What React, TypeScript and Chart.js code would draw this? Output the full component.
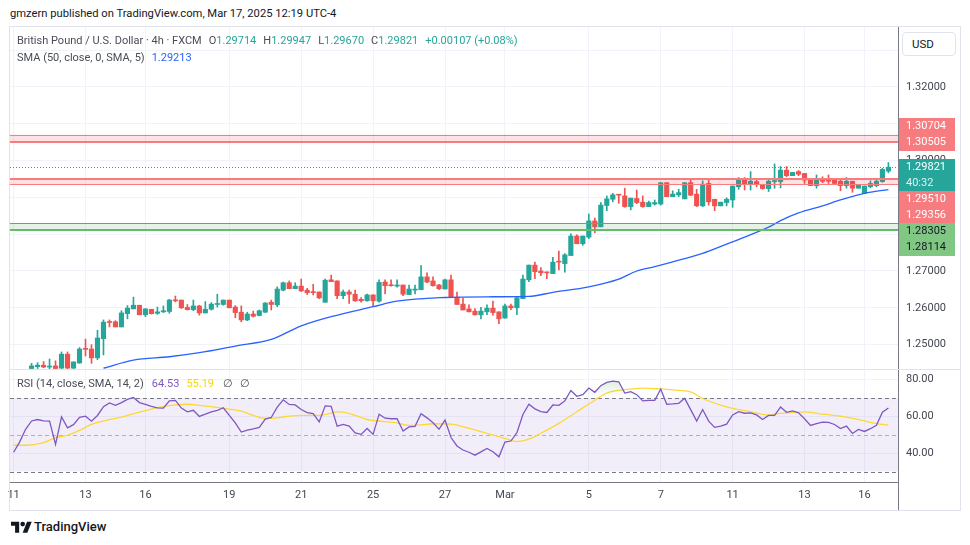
import React, { useEffect, useRef } from 'react';
import { Chart, registerables } from 'chart.js';

Chart.register(...registerables);
Chart.defaults.font.family = 'Roboto, "Noto Sans", sans-serif';
Chart.defaults.font.size = 11;

// ---------- texts ----------
const TITLE = 'gmzern published on TradingView.com, Mar 17, 2025 12:19 UTC-4';
const SYMBOL = 'British Pound / U.S. Dollar · 4h · FXCM';
const OHLC_LABELS = ['O', 'H', 'L', 'C'];
const OHLC_VALUES = ['1.29714', '1.29947', '1.29670', '1.29821'];
const CHANGE = '+0.00107 (+0.08%)';
const SMA_TITLE = 'SMA (50, close, 0, SMA, 5)';
const SMA_LAST = '1.29213';
const RSI_TITLE = 'RSI (14, close, SMA, 14, 2)';
const RSI_LAST = '64.53';
const RSI_MA_LAST = '55.19';
const CURRENCY = 'USD';
const TIMER = '40:32';

// ---------- axes ----------
const DAY_TICKS = [0, 12, 22, 36, 48, 60, 72, 82, 96, 108, 120, 132, 142];
const DAY_LABELS = ['11', '13', '16', '19', '21', '25', '27', 'Mar', '5', '7', '11', '13', '16'];
const PRICE_TICKS = [1.25, 1.26, 1.27, 1.28, 1.29, 1.3, 1.31, 1.32, 1.33];
const RSI_TICKS = [40, 60, 80];

// ---------- 4h candles (index 0 = first bar of Feb 11) ----------
const OPEN = [null, null, null,
  1.2435, 1.2440, 1.2444, 1.2439, 1.2442, 1.2436, 1.2474, 1.2436, 1.2450, 1.2489,
  1.2488, 1.2464, 1.2516, 1.2562, 1.2562, 1.2548, 1.2584, 1.2597, 1.2607, 1.2581,
  1.2596, 1.2585, 1.2589, 1.2590, 1.2621, 1.2621, 1.2601, 1.2595, 1.2605, 1.2586,
  1.2596, 1.2609, 1.2609, 1.2621, 1.2602, 1.2588, 1.2567, 1.2583, 1.2579, 1.2588,
  1.2615, 1.2608, 1.2648, 1.2668, 1.2652, 1.2659, 1.2648, 1.2644, 1.2643, 1.2615,
  1.2676, 1.2673, 1.2633, 1.2643, 1.2637, 1.2623, 1.2619, 1.2635, 1.2618, 1.2670,
  1.2662, 1.2659, 1.2662, 1.2636, 1.2648, 1.2649, 1.2684, 1.2673, 1.2662, 1.2651,
  1.2676, 1.2629, 1.2610, 1.2597, 1.2591, 1.2581, 1.2589, 1.2599, 1.2589, 1.2572,
  1.2605, 1.2600, 1.2625, 1.2676, 1.2716, 1.2700, 1.2697, 1.2693, 1.2725, 1.2720,
  1.2742, 1.2795, 1.2774, 1.2792, 1.2836, 1.2820, 1.2878, 1.2895, 1.2908, 1.2904,
  1.2875, 1.2897, 1.2887, 1.2875, 1.2882, 1.2882, 1.2940, 1.2902, 1.2907, 1.2896,
  1.2940, 1.2909, 1.2877, 1.2938, 1.2895, 1.2877, 1.2886, 1.2893, 1.2929, 1.2947,
  1.2936, 1.2943, 1.2935, 1.2924, 1.2943, 1.2943, 1.2974, 1.2959, 1.2970, 1.2965,
  1.2950, 1.2932, 1.2947, 1.2947, 1.2947, 1.2944, 1.2932, 1.2944, 1.2925, 1.2911,
  1.2929, 1.2932, 1.2943, 1.29714];
const HIGH = [null, null, null,
  1.2449, 1.2451, 1.2454, 1.2461, 1.2456, 1.2480, 1.2480, 1.2453, 1.2492, 1.2515,
  1.2500, 1.2539, 1.2567, 1.2567, 1.2565, 1.2592, 1.2606, 1.2629, 1.2607, 1.2598,
  1.2596, 1.2602, 1.2605, 1.2623, 1.2632, 1.2621, 1.2609, 1.2621, 1.2607, 1.2617,
  1.2614, 1.2637, 1.2621, 1.2621, 1.2606, 1.2605, 1.2588, 1.2591, 1.2594, 1.2614,
  1.2621, 1.2657, 1.2670, 1.2673, 1.2668, 1.2678, 1.2653, 1.2664, 1.2643, 1.2678,
  1.2689, 1.2673, 1.2648, 1.2648, 1.2648, 1.2628, 1.2637, 1.2635, 1.2676, 1.2676,
  1.2676, 1.2676, 1.2662, 1.2662, 1.2662, 1.2715, 1.2695, 1.2684, 1.2664, 1.2678,
  1.2689, 1.2643, 1.2626, 1.2608, 1.2598, 1.2601, 1.2608, 1.2618, 1.2589, 1.2610,
  1.2610, 1.2629, 1.2689, 1.2716, 1.2724, 1.2709, 1.2697, 1.2737, 1.2754, 1.2747,
  1.2801, 1.2798, 1.2795, 1.2855, 1.2844, 1.2886, 1.2904, 1.2911, 1.2908, 1.2925,
  1.2898, 1.2920, 1.2904, 1.2890, 1.2893, 1.2940, 1.2940, 1.2918, 1.2922, 1.2940,
  1.2949, 1.2922, 1.2945, 1.2949, 1.2895, 1.2887, 1.2899, 1.2931, 1.2954, 1.2954,
  1.2970, 1.2947, 1.2935, 1.2947, 1.2991, 1.2984, 1.2984, 1.2968, 1.2973, 1.2965,
  1.2950, 1.2961, 1.2956, 1.2961, 1.2947, 1.2947, 1.2954, 1.2944, 1.2935, 1.2931,
  1.2945, 1.2947, 1.2979, 1.29947];
const LOW = [null, null, null,
  1.2435, 1.2435, 1.2437, 1.2434, 1.2435, 1.2435, 1.2435, 1.2435, 1.2449, 1.2469,
  1.2449, 1.2459, 1.2472, 1.2548, 1.2548, 1.2548, 1.2570, 1.2597, 1.2581, 1.2576,
  1.2583, 1.2582, 1.2587, 1.2585, 1.2616, 1.2598, 1.2594, 1.2592, 1.2580, 1.2586,
  1.2594, 1.2602, 1.2607, 1.2600, 1.2573, 1.2562, 1.2565, 1.2575, 1.2578, 1.2587,
  1.2594, 1.2603, 1.2646, 1.2652, 1.2652, 1.2644, 1.2636, 1.2635, 1.2625, 1.2615,
  1.2671, 1.2625, 1.2625, 1.2612, 1.2617, 1.2615, 1.2618, 1.2603, 1.2615, 1.2638,
  1.2659, 1.2656, 1.2633, 1.2636, 1.2638, 1.2649, 1.2668, 1.2659, 1.2649, 1.2651,
  1.2629, 1.2609, 1.2594, 1.2589, 1.2580, 1.2570, 1.2581, 1.2580, 1.2557, 1.2572,
  1.2595, 1.2581, 1.2625, 1.2671, 1.2679, 1.2687, 1.2679, 1.2693, 1.2703, 1.2697,
  1.2742, 1.2774, 1.2770, 1.2788, 1.2804, 1.2820, 1.2864, 1.2888, 1.2884, 1.2873,
  1.2866, 1.2883, 1.2873, 1.2875, 1.2879, 1.2879, 1.2902, 1.2902, 1.2902, 1.2896,
  1.2905, 1.2875, 1.2875, 1.2879, 1.2864, 1.2877, 1.2877, 1.2873, 1.2922, 1.2920,
  1.2920, 1.2929, 1.2922, 1.2916, 1.2925, 1.2926, 1.2956, 1.2959, 1.2959, 1.2938,
  1.2932, 1.2925, 1.2940, 1.2938, 1.2936, 1.2918, 1.2925, 1.2914, 1.2925, 1.2911,
  1.2926, 1.2929, 1.2941, 1.29670];
const CLOSE = [null, null, null,
  1.2442, 1.2444, 1.2439, 1.2441, 1.2435, 1.2474, 1.2436, 1.2453, 1.2488, 1.2487,
  1.2464, 1.2518, 1.2561, 1.2560, 1.2548, 1.2586, 1.2599, 1.2607, 1.2581, 1.2597,
  1.2584, 1.2589, 1.2592, 1.2621, 1.2619, 1.2600, 1.2595, 1.2605, 1.2586, 1.2596,
  1.2610, 1.2611, 1.2621, 1.2600, 1.2587, 1.2567, 1.2583, 1.2577, 1.2592, 1.2613,
  1.2609, 1.2651, 1.2668, 1.2652, 1.2659, 1.2646, 1.2641, 1.2641, 1.2627, 1.2675,
  1.2671, 1.2633, 1.2643, 1.2637, 1.2619, 1.2619, 1.2635, 1.2619, 1.2669, 1.2660,
  1.2660, 1.2662, 1.2637, 1.2651, 1.2651, 1.2684, 1.2670, 1.2660, 1.2652, 1.2676,
  1.2629, 1.2609, 1.2594, 1.2589, 1.2581, 1.2591, 1.2599, 1.2587, 1.2570, 1.2605,
  1.2600, 1.2627, 1.2678, 1.2716, 1.2698, 1.2695, 1.2695, 1.2724, 1.2724, 1.2744,
  1.2795, 1.2774, 1.2795, 1.2836, 1.2820, 1.2879, 1.2896, 1.2907, 1.2906, 1.2875,
  1.2898, 1.2886, 1.2875, 1.2886, 1.2886, 1.2940, 1.2902, 1.2909, 1.2913, 1.2940,
  1.2906, 1.2877, 1.2936, 1.2888, 1.2877, 1.2887, 1.2895, 1.2931, 1.2947, 1.2935,
  1.2944, 1.2935, 1.2924, 1.2944, 1.2945, 1.2974, 1.2959, 1.2968, 1.2963, 1.2947,
  1.2932, 1.2947, 1.2944, 1.2944, 1.2938, 1.2932, 1.2944, 1.2925, 1.2935, 1.2931,
  1.2938, 1.2944, 1.2976, 1.29821];

// ---------- SMA(50) read at sample bars ----------
const SMA_IDX = [15, 20, 26, 31, 37, 43, 48, 53, 60, 64, 72, 80, 86, 90, 96, 101, 104, 107, 110, 115, 119, 122, 126, 128, 131, 135, 138, 142, 146];
const SMA_VAL = [1.2436, 1.2458, 1.2467, 1.2478, 1.2496, 1.2514, 1.2551, 1.2576, 1.2603, 1.2618, 1.2628, 1.2630, 1.2631, 1.2642, 1.2657, 1.2678, 1.2700, 1.2712, 1.2725, 1.2748, 1.2773, 1.2792, 1.2819, 1.2837, 1.2858, 1.2877, 1.2893, 1.2911, 1.29213];

// ---------- RSI(14), one value per bar ----------
const RSI = [
  40.5, 46, 53, 57.5, 58.3, 57.6, 57.4, 44.8, 59.7, 53.8,
  55.5, 59.5, 60.1, 57.4, 60.5, 65.3, 67.3, 66, 67.5, 69.2,
  70.3, 67.5, 66.5, 65.5, 64.6, 64.5, 68.4, 68.7, 64.5, 62.5,
  63.3, 60, 61.2, 62.5, 63.3, 64.7, 60.5, 56.5, 51.5, 52.5,
  53.2, 54, 58.5, 59.4, 65, 69, 66.5, 66.2, 63.7, 62,
  61.5, 57, 65.7, 65.5, 54.7, 55.6, 54.7, 51, 50.2, 53.4,
  50.2, 61.2, 59, 58.7, 58.7, 52, 54.3, 54.6, 61.5, 59.2,
  56.5, 53, 58, 48.5, 43.9, 41.7, 40.5, 38.9, 40.7, 42.6,
  40.8, 38, 46, 46.6, 51.1, 61, 66.6, 64.1, 62.6, 62.1,
  66.2, 66, 68.4, 74.1, 70.9, 71.8, 75.4, 73.1, 76.7, 78.5,
  79.2, 78.8, 72.7, 73.4, 71.8, 68.4, 68.7, 68.7, 74.9, 66.6,
  66.8, 67.1, 69.8, 63.7, 57.4, 63.7, 57.4, 54, 54.7, 55.8,
  60.8, 62.6, 61.7, 61.9, 60.8, 58.3, 60.5, 60.6, 65.1, 62.2,
  63, 61.9, 58.7, 55.1, 56.1, 56.9, 56.7, 55.6, 53.4, 54.7,
  50.7, 52.9, 51.8, 53.3, 55.1, 62.3, 64.53];

// ---------- RSI-based SMA(14) read at sample bars ----------
const RSI_MA_IDX = [0, 2, 5, 7, 9, 11, 13, 16, 18, 20, 24, 27, 29, 31, 34, 36, 38, 40, 42, 44, 46, 48, 50, 52, 54, 55, 57, 59, 62, 64, 66, 68, 70, 73, 76, 79, 82, 84, 86, 88, 91, 94, 97, 99, 102, 105, 108, 111, 113, 115, 118, 120, 123, 126, 128, 132, 135, 138, 142, 144, 146];
const RSI_MA_VAL = [44.3, 44.3, 45.7, 48.4, 49.7, 52.4, 55.6, 58.3, 59.6, 61.4, 64.8, 66.2, 66.6, 66.0, 64.9, 64.0, 62.8, 60.5, 58.9, 59.2, 60.1, 60.5, 60.5, 61.0, 62.4, 62.3, 60.5, 58.3, 57.1, 56.5, 55.1, 55.4, 56.0, 55.8, 53.5, 50.8, 48.1, 46.3, 47.6, 50.8, 56.2, 62.5, 68.8, 72.7, 74.5, 75.4, 74.9, 74.1, 73.3, 69.7, 66.1, 64.3, 62.5, 60.7, 61.6, 62.5, 61.2, 60.1, 57.6, 56.1, 55.19];

// ---------- drawn levels ----------
const RES_UPPER = [1.30704, 1.30505];
const RES_LOWER = [1.2951, 1.29356];
const SUPPORT = [1.28305, 1.28114];
const LAST_PRICE = 1.29821;
const RSI_LEVELS = [70, 50, 30];

// ---------- styles ----------
const UP = '#26a69a';
const DOWN = '#ef5350';
const TEXT = '#131722';
const LEGEND_TEXT = '#4a4d57';
const AXIS_TEXT = '#434651';
const GRID = '#f0f3fa';
const AXIS_LINE = '#787b86';
const RED_LEVEL = '#f77c80';
const GREEN_LABEL = '#81c784';
const X_MIN = -0.6;
const X_MAX = 147.6;
const AXIS_W = 62;

const ZONES = [
  { values: RES_UPPER, colors: [RED_LEVEL, RED_LEVEL], widths: [1, 2], fill: 'rgba(242,54,69,0.15)' },
  { values: RES_LOWER, colors: [RED_LEVEL, RED_LEVEL], widths: [2, 1], fill: 'rgba(242,54,69,0.15)' },
  { values: SUPPORT, colors: ['#4caf8a', '#66bb6a'], widths: [1, 2], fill: 'rgba(76,175,80,0.15)' },
];

const candleIdx = OPEN.map((_, i) => i).filter((i) => OPEN[i] != null);
const candleColors = candleIdx.map((i) => ((CLOSE[i] as number) >= (OPEN[i] as number) ? UP : DOWN));

function zeroPad(s: any) {
  s.paddingTop = 0;
  s.paddingBottom = 0;
  s.paddingLeft = 0;
  s.paddingRight = 0;
}

function hline(ctx: any, a: any, py: number, color: string, w: number, dash: number[] = []) {
  const yy = w % 2 === 1 ? Math.round(py) + 0.5 : Math.round(py);
  ctx.strokeStyle = color;
  ctx.lineWidth = w;
  ctx.setLineDash(dash);
  ctx.beginPath();
  ctx.moveTo(a.left, yy);
  ctx.lineTo(a.right, yy);
  ctx.stroke();
}

const levelsPlugin = {
  id: 'levels',
  afterDatasetsDraw(chart: any) {
    const { ctx, chartArea: a } = chart;
    const y = chart.scales.y;
    ctx.save();
    ctx.beginPath();
    ctx.rect(a.left, a.top, a.right - a.left, a.bottom - a.top);
    ctx.clip();
    ZONES.forEach((z) => {
      const y0 = y.getPixelForValue(z.values[0]);
      const y1 = y.getPixelForValue(z.values[1]);
      ctx.fillStyle = z.fill;
      ctx.fillRect(a.left, Math.min(y0, y1), a.right - a.left, Math.abs(y1 - y0));
      z.values.forEach((v, k) => hline(ctx, a, y.getPixelForValue(v), z.colors[k], z.widths[k]));
    });
    hline(ctx, a, y.getPixelForValue(LAST_PRICE), UP, 1, [1, 2]);
    ctx.restore();
  },
};

const priceLabelsPlugin = {
  id: 'priceLabels',
  afterDraw(chart: any) {
    const { ctx, chartArea: a } = chart;
    const y = chart.scales.y;
    const H = 16;
    const anchor = y.getPixelForValue(LAST_PRICE);
    const rows: any[] = [
      { y: anchor, text: LAST_PRICE.toFixed(5), bg: UP, fg: '#ffffff', g: 1 },
      { y: anchor + H, text: TIMER, bg: UP, fg: 'rgba(255,255,255,0.85)', g: 1 },
    ];
    let prev = anchor + H;
    const below = [
      { vals: RES_LOWER, bg: RED_LEVEL, fg: '#ffffff', g: 2 },
      { vals: SUPPORT, bg: GREEN_LABEL, fg: '#131722', g: 3 },
    ];
    below.forEach((grp) => {
      grp.vals.forEach((v) => {
        const py = Math.max(y.getPixelForValue(v), prev + H);
        rows.push({ y: py, text: v.toFixed(5), bg: grp.bg, fg: grp.fg, g: grp.g });
        prev = py;
      });
    });
    prev = anchor;
    [RES_UPPER[1], RES_UPPER[0]].forEach((v) => {
      const py = Math.min(y.getPixelForValue(v), prev - H);
      rows.push({ y: py, text: v.toFixed(5), bg: RED_LEVEL, fg: '#ffffff', g: 0 });
      prev = py;
    });
    const x0 = a.right + 1;
    const w = 56;
    ctx.save();
    [0, 1, 2, 3].forEach((g) => {
      const rs = rows.filter((r) => r.g === g);
      const top = Math.min(...rs.map((r) => r.y)) - H / 2 - 0.5;
      const bot = Math.max(...rs.map((r) => r.y)) + H / 2 + 0.5;
      ctx.fillStyle = rs[0].bg;
      ctx.fillRect(x0, Math.round(top), w, Math.round(bot) - Math.round(top));
    });
    ctx.font = '11px Roboto, "Noto Sans", sans-serif';
    ctx.textBaseline = 'middle';
    ctx.textAlign = 'left';
    rows.forEach((r) => {
      ctx.fillStyle = r.fg;
      ctx.fillText(r.text, a.right + 8, r.y + 0.5);
    });
    ctx.restore();
  },
};

const rsiBandPlugin = {
  id: 'rsiBand',
  beforeDatasetsDraw(chart: any) {
    const { ctx, chartArea: a } = chart;
    const y = chart.scales.y;
    const top = y.getPixelForValue(RSI_LEVELS[0]);
    const bot = y.getPixelForValue(RSI_LEVELS[2]);
    ctx.save();
    ctx.fillStyle = 'rgba(126,87,194,0.1)';
    ctx.fillRect(a.left, top, a.right - a.left, bot - top);
    RSI_LEVELS.forEach((v, k) => {
      hline(ctx, a, y.getPixelForValue(v), k === 1 ? 'rgba(120,123,134,0.55)' : AXIS_LINE, 1, [4, 3]);
    });
    ctx.restore();
  },
};

function xAxis(showLabels: boolean) {
  return {
    type: 'linear',
    min: X_MIN,
    max: X_MAX,
    offset: false,
    afterBuildTicks: (s: any) => {
      s.ticks = DAY_TICKS.map((v) => ({ value: v }));
    },
    afterFit: (s: any) => {
      s.height = showLabels ? 29 : 0;
      zeroPad(s);
    },
    ticks: {
      display: showLabels,
      autoSkip: false,
      maxRotation: 0,
      padding: 7,
      color: AXIS_TEXT,
      font: { size: 11 },
      callback: (_v: any, i: number) => DAY_LABELS[i],
    },
    grid: { color: GRID, drawTicks: false, offset: false },
    border: { display: showLabels, color: AXIS_LINE },
  };
}

function yAxis(min: number, max: number, ticks: number[], digits: number) {
  return {
    position: 'right',
    min,
    max,
    beginAtZero: false,
    afterBuildTicks: (s: any) => {
      s.ticks = ticks.map((v) => ({ value: v }));
    },
    afterFit: (s: any) => {
      s.width = AXIS_W;
      zeroPad(s);
    },
    ticks: {
      padding: 8,
      color: AXIS_TEXT,
      font: { size: 11 },
      callback: (v: any) => Number(v).toFixed(digits),
    },
    grid: { color: GRID, drawTicks: false },
    border: { display: true, color: AXIS_LINE },
  };
}

export default function App() {
  const mainRef = useRef<HTMLCanvasElement>(null);
  const rsiRef = useRef<HTMLCanvasElement>(null);

  useEffect(() => {
    const main = new Chart(mainRef.current as HTMLCanvasElement, {
      type: 'bar',
      data: {
        datasets: [
          {
            type: 'line',
            data: SMA_IDX.map((x, k) => ({ x, y: SMA_VAL[k] })),
            borderColor: '#2962ff',
            borderWidth: 1.3,
            pointRadius: 0,
            cubicInterpolationMode: 'monotone',
          },
          {
            type: 'bar',
            data: candleIdx.map((i) => ({ x: i, y: [OPEN[i], CLOSE[i]] })),
            backgroundColor: candleColors,
            barThickness: 4.5,
            minBarLength: 1,
            grouped: false,
            borderWidth: 0,
          },
          {
            type: 'bar',
            data: candleIdx.map((i) => ({ x: i, y: [LOW[i], HIGH[i]] })),
            backgroundColor: candleColors,
            barThickness: 1,
            grouped: false,
            borderWidth: 0,
          },
        ],
      } as any,
      options: {
        responsive: false,
        animation: false,
        devicePixelRatio: 1,
        events: [],
        layout: { padding: { left: 10, right: 10, top: 0, bottom: 0 } },
        plugins: { legend: { display: false }, tooltip: { enabled: false } },
        scales: {
          x: xAxis(false),
          y: yAxis(1.243097, 1.336304, PRICE_TICKS, 5),
        } as any,
      },
      plugins: [levelsPlugin, priceLabelsPlugin],
    } as any);

    const rsi = new Chart(rsiRef.current as HTMLCanvasElement, {
      type: 'line',
      data: {
        datasets: [
          {
            data: RSI.map((v, i) => ({ x: i, y: v })),
            borderColor: '#7e57c2',
            borderWidth: 1.3,
            pointRadius: 0,
            fill: { target: { value: 70 }, above: 'rgba(76,175,80,0.15)', below: 'rgba(0,0,0,0)' },
          },
          {
            data: RSI_MA_IDX.map((x, k) => ({ x, y: RSI_MA_VAL[k] })),
            borderColor: '#fdd835',
            borderWidth: 1.3,
            pointRadius: 0,
            cubicInterpolationMode: 'monotone',
            fill: false,
          },
        ],
      } as any,
      options: {
        responsive: false,
        animation: false,
        devicePixelRatio: 1,
        events: [],
        layout: { padding: { left: 10, right: 10, top: 0, bottom: 0 } },
        plugins: { legend: { display: false }, tooltip: { enabled: false } },
        scales: {
          x: xAxis(true),
          y: yAxis(24.32, 84.86, RSI_TICKS, 2),
        } as any,
      },
      plugins: [rsiBandPlugin],
    } as any);

    const ys: any = rsi.scales.y;
    const g = (rsi.ctx as CanvasRenderingContext2D).createLinearGradient(0, ys.getPixelForValue(100), 0, ys.getPixelForValue(70));
    g.addColorStop(0, 'rgba(76,175,80,0.6)');
    g.addColorStop(1, 'rgba(76,175,80,0)');
    (rsi.data.datasets[0] as any).fill = { target: { value: 70 }, above: g, below: 'rgba(0,0,0,0)' };
    rsi.update('none');

    return () => {
      main.destroy();
      rsi.destroy();
    };
  }, []);

  const font = 'Roboto, "Noto Sans", sans-serif';
  const legendStyle: any = { position: 'absolute', left: 17, fontSize: 11, lineHeight: '14px', color: LEGEND_TEXT, whiteSpace: 'nowrap' };
  return (
    <div style={{ position: 'fixed', left: 0, top: 0, width: 970, height: 545, background: '#ffffff', overflow: 'hidden', fontFamily: font }}>
      <div style={{ position: 'absolute', left: 10, top: 7, fontSize: 11.2, lineHeight: '14px', color: TEXT, whiteSpace: 'nowrap' }}>{TITLE}</div>

      <canvas ref={mainRef} width={970} height={343} style={{ position: 'absolute', left: 0, top: 27, width: 970, height: 343 }} />
      <canvas ref={rsiRef} width={970} height={141} style={{ position: 'absolute', left: 0, top: 370, width: 970, height: 141 }} />

      <div style={{ position: 'absolute', left: 9, top: 26, width: 952, height: 485, border: '1px solid #e0e3eb', boxSizing: 'border-box', pointerEvents: 'none' }} />
      <div style={{ position: 'absolute', left: 10, top: 369, width: 950, height: 1, background: '#e0e3eb' }} />
      <div style={{ position: 'absolute', left: 898, top: 482, width: 1, height: 28, background: AXIS_LINE }} />

      <div style={{ ...legendStyle, top: 34 }}>
        <span>{SYMBOL}</span>
        {OHLC_LABELS.map((l, k) => (
          <span key={l} style={{ marginLeft: 7 }}>
            {l}
            <span style={{ color: UP }}>{OHLC_VALUES[k]}</span>
          </span>
        ))}
        <span style={{ marginLeft: 7, color: UP }}>{CHANGE}</span>
      </div>
      <div style={{ ...legendStyle, top: 51 }}>
        <span>{SMA_TITLE}</span>
        <span style={{ marginLeft: 7, color: '#2962ff' }}>{SMA_LAST}</span>
      </div>
      <div style={{ ...legendStyle, top: 377 }}>
        <span>{RSI_TITLE}</span>
        <span style={{ marginLeft: 8, color: '#7e57c2' }}>{RSI_LAST}</span>
        <span style={{ marginLeft: 7, color: '#f5d90a' }}>{RSI_MA_LAST}</span>
        <span style={{ marginLeft: 9 }}>∅</span>
        <span style={{ marginLeft: 7 }}>∅</span>
      </div>

      <div style={{ position: 'absolute', left: 902, top: 32, width: 54, height: 24, border: '1px solid #e0e3eb', borderRadius: 4, boxSizing: 'border-box', background: '#ffffff', fontSize: 11.5, lineHeight: '22px', paddingLeft: 9, color: TEXT }}>{CURRENCY}</div>

      <svg style={{ position: 'absolute', left: 11, top: 521 }} width="21" height="12" viewBox="0 0 36 20">
        <path d="M14 20H7V8H0V1h14v19z" fill={TEXT} />
        <circle cx="20" cy="5" r="4" fill={TEXT} />
        <path d="M28 20h-8L27.5 1h8L28 20z" fill={TEXT} />
      </svg>
      <div style={{ position: 'absolute', left: 34, top: 519, fontSize: 13, lineHeight: '16px', fontWeight: 500, color: TEXT, whiteSpace: 'nowrap' }}>TradingView</div>
    </div>
  );
}
